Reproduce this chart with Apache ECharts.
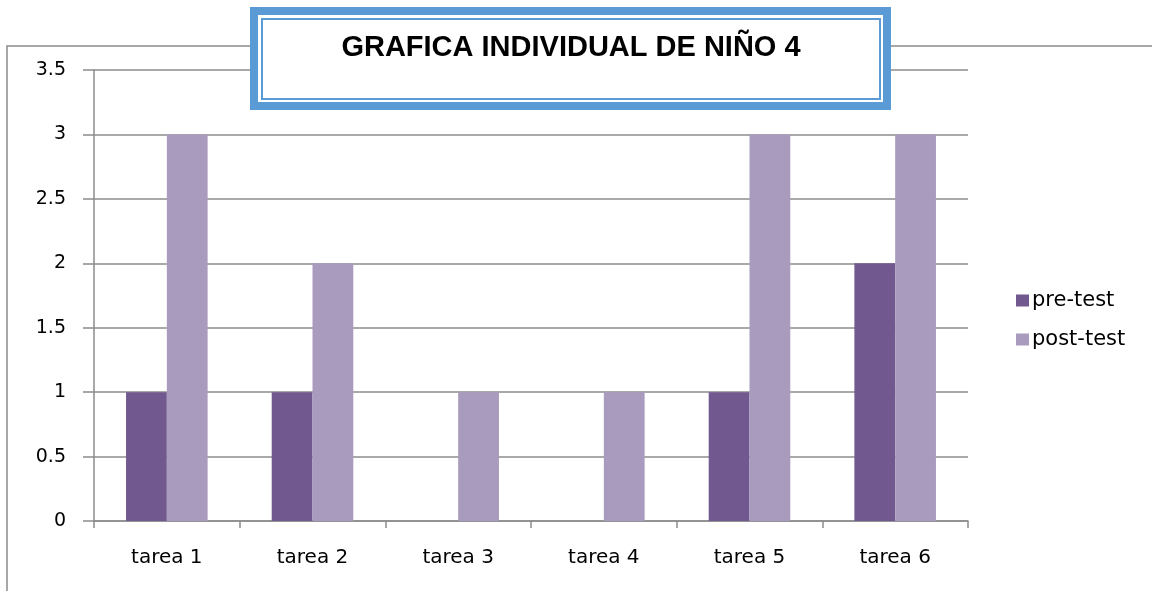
<!DOCTYPE html>
<html><head><meta charset="utf-8">
<script src="https://cdn.jsdelivr.net/npm/echarts@6/dist/echarts.min.js"></script>
<style>html,body{margin:0;padding:0;background:#fff}#c{width:1152px;height:591px}</style>
</head><body><div id="c"></div>
<script>
var categories = ['tarea 1','tarea 2','tarea 3','tarea 4','tarea 5','tarea 6'];
var preTest = [1,1,0,0,1,2];
var postTest = [3,2,1,1,3,3];
var seriesNames = ['pre-test','post-test'];
var titleText = 'GRAFICA INDIVIDUAL DE NIÑO 4';

var chart = echarts.init(document.getElementById('c'));
var font = 'DejaVu Sans';
chart.setOption({
  animation:false,
  backgroundColor:'#fff',
  grid:{left:94,right:184,top:70,bottom:70},
  legend:{orient:'vertical',left:1011,top:285,itemWidth:13,itemHeight:12,itemGap:18,
    icon:'rect',textStyle:{fontFamily:font,fontSize:21,color:'#000',padding:[0,0,0,-2]},data:seriesNames},
  xAxis:{type:'category',data:categories,
    axisLine:{lineStyle:{color:'#8c8c8c',width:1.5}},
    axisTick:{show:true,length:7,lineStyle:{color:'#8c8c8c',width:1.5}},
    axisLabel:{margin:27,fontFamily:font,fontSize:20,color:'#000'}},
  yAxis:{type:'value',min:0,max:3.5,interval:0.5,
    axisLine:{show:true,lineStyle:{color:'#8c8c8c',width:1.5}},
    axisTick:{show:true,length:11,lineStyle:{color:'#8c8c8c',width:1.5}},
    splitLine:{lineStyle:{color:'#8c8c8c',width:1.5}},
    axisLabel:{margin:28,fontFamily:font,fontSize:19,color:'#000'}},
  series:[
    {name:seriesNames[0],type:'bar',data:preTest,barGap:'0%',barCategoryGap:'44%',itemStyle:{color:'#71588F'}},
    {name:seriesNames[1],type:'bar',data:postTest,barGap:'0%',barCategoryGap:'44%',itemStyle:{color:'#A99BBD'}}
  ],
  graphic:[
    {type:'polyline',z:-1,shape:{points:[[7,591],[7,46],[1152,46]]},style:{stroke:'#8c8c8c',lineWidth:1.5,fill:null}},
    {type:'rect',z:100,shape:{x:254,y:11,width:633,height:95},style:{fill:'#fff',stroke:'#5B9BD5',lineWidth:8}},
    {type:'rect',z:101,shape:{x:262,y:19,width:618,height:80},style:{fill:null,stroke:'#5B9BD5',lineWidth:2}},
    {type:'text',z:102,x:571,y:48,style:{text:titleText,fontFamily:'Liberation Sans',fontWeight:'bold',fontSize:29,fill:'#000',align:'center',verticalAlign:'middle'}}
  ]
});
</script></body></html>
